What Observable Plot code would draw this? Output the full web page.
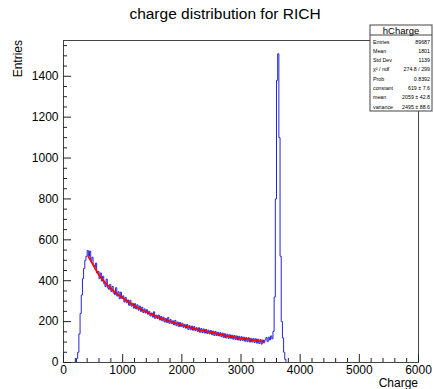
<!DOCTYPE html>
<html><head><meta charset="utf-8">
<script src="https://cdn.jsdelivr.net/npm/d3@7"></script>
<script src="https://cdn.jsdelivr.net/npm/@observablehq/plot@0.6"></script>
<style>body{margin:0;background:#fff;}</style>
</head><body><div id="chart"></div>
<script>
// ---- data ----
const binStart = 200;
const binWidth = 20;
const counts = [
  0, 20, 50, 140, 240, 330, 410, 460, 500, 520,
  548, 520, 545, 498, 515, 476, 468, 486, 438, 445,
  410, 438, 398, 422, 385, 372, 408, 365, 358, 382,
  348, 372, 340, 332, 366, 325, 346, 312, 344, 314,
  326, 296, 318, 292, 306, 280, 304, 276, 290, 266,
  288, 262, 282, 256, 276, 250, 270, 244, 262, 242,
  258, 236, 250, 228, 242, 222, 248, 216, 232, 215,
  232, 208, 226, 204, 222, 198, 215, 196, 220, 192,
  210, 190, 204, 184, 206, 180, 198, 176, 196, 176,
  192, 172, 186, 168, 186, 162, 180, 160, 178, 158,
  176, 156, 170, 152, 170, 148, 166, 146, 164, 144,
  162, 142, 158, 140, 156, 136, 154, 132, 152, 132,
  148, 130, 146, 126, 144, 122, 141, 120, 138, 118,
  136, 118, 134, 114, 132, 112, 130, 110, 128, 108,
  126, 108, 124, 104, 122, 102, 121, 100, 118, 100,
  117, 98, 116, 95, 114, 93, 112, 90, 110, 96,
  110, 122, 102, 124, 110, 130, 116, 152, 320, 800,
  1380, 1510, 1100, 520, 200, 120, 50, 15, 0, 0
];
const fitCharge = [420, 500, 600, 700, 800, 900, 1000, 1100, 1200, 1300, 1400, 1500, 1600, 1700, 1800, 1900, 2000, 2100, 2200, 2300, 2400, 2500, 2600, 2700, 2800, 2900, 3000, 3100, 3200, 3300, 3380];
const fitValue  = [518, 478, 428, 392, 362, 337, 316, 296, 278, 262, 247, 234, 222, 211, 201, 192, 183, 175, 167, 160, 153, 147, 140, 134, 128, 123, 118, 114, 109, 105, 102];

const xMajor = [0, 1000, 2000, 3000, 4000, 5000, 6000];
const xMinor = [200, 400, 600, 800, 1200, 1400, 1600, 1800, 2200, 2400, 2600, 2800, 3200, 3400, 3600, 3800, 4200, 4400, 4600, 4800, 5200, 5400, 5600, 5800];
const yMajor = [0, 200, 400, 600, 800, 1000, 1200, 1400];
const yMinor = [50, 100, 150, 250, 300, 350, 450, 500, 550, 650, 700, 750, 850, 900, 950, 1050, 1100, 1150, 1250, 1300, 1350, 1450, 1500, 1550];
const xDomain = [0, 6000];
const yDomain = [0, 1575];

const title = "charge distribution for RICH";
const xLabel = "Charge";
const yLabel = "Entries";
const statsName = "hCharge";
const statLabels = ["Entries", "Mean", "Std Dev", "χ² / ndf", "Prob", "constant", "mean", "variance"];
const statValues = ["89687", "1801", "1139", "274.8 / 299", "0.8392", "619 ± 7.6", "2059 ± 42.8", "2495 ± 88.6"];

// ---- tables ----
const hist = counts.map((c, i) => ({x: binStart + i * binWidth, y: c}));
hist.push({x: binStart + counts.length * binWidth, y: counts[counts.length - 1]});
const fit = fitCharge.map((c, i) => ({x: c, y: fitValue[i]}));

const W = 434, H = 389;
const font = "Liberation Sans, Arial, Helvetica, sans-serif";
const plain = d => String(d);

const plot = Plot.plot({
  width: W, height: H,
  marginLeft: 63, marginRight: 16, marginTop: 40, marginBottom: 27,
  style: {fontFamily: font, fontSize: "12px", color: "#000", background: "#fff"},
  x: {domain: xDomain, label: null},
  y: {domain: yDomain, label: null},
  marks: [
    Plot.line(hist, {x: "x", y: "y", curve: "step-after", stroke: "#2424d8", strokeWidth: 1}),
    Plot.line(fit, {x: "x", y: "y", curve: "natural", stroke: "#ff0000", strokeWidth: 1.8}),
    Plot.frame({stroke: "#444", strokeWidth: 1}),
    Plot.axisX({ticks: xMajor, tickSize: -8, tickPadding: 11, tickFormat: plain, label: null, fontSize: 12, stroke: "#222"}),
    Plot.axisX({ticks: xMinor, tickSize: -4, tickFormat: () => "", label: null, stroke: "#222"}),
    Plot.axisY({ticks: yMajor, tickSize: -8, tickPadding: 13, tickFormat: plain, label: null, fontSize: 12, stroke: "#222"}),
    Plot.axisY({ticks: yMinor, tickSize: -4, tickFormat: () => "", label: null, stroke: "#222"})
  ]
});
document.getElementById("chart").appendChild(plot);

// ---- annotations: title, axis titles, stats box ----
const svg = d3.select(plot);
svg.append("text").attr("x", 225).attr("y", 19).attr("text-anchor", "middle")
  .style("font-size", "15.5px").style("font-family", font).attr("fill", "#000").text(title);
svg.append("text").attr("transform", "translate(22,40) rotate(-90)").attr("text-anchor", "end")
  .style("font-size", "12px").style("font-family", font).attr("fill", "#000").text(yLabel);
svg.append("text").attr("x", 418).attr("y", 387).attr("text-anchor", "end")
  .style("font-size", "12px").style("font-family", font).attr("fill", "#000").text(xLabel);

const bx = 370, by = 25, bw = 62, bh = 86;
const g = svg.append("g");
g.append("rect").attr("x", bx).attr("y", by).attr("width", bw).attr("height", bh)
  .attr("fill", "#fff").attr("stroke", "#444").attr("stroke-width", 1);
g.append("line").attr("x1", bx).attr("x2", bx + bw).attr("y1", 35).attr("y2", 35).attr("stroke", "#444");
g.append("text").attr("x", bx + bw / 2).attr("y", 33.5).attr("text-anchor", "middle")
  .style("font-size", "9.5px").style("font-family", font).text(statsName);
statLabels.forEach((lab, i) => {
  const yy = 43.5 + i * 9.3;
  g.append("text").attr("x", bx + 3).attr("y", yy).attr("text-anchor", "start")
    .style("font-size", "5.3px").style("font-family", font).text(lab);
  g.append("text").attr("x", bx + bw - 2).attr("y", yy).attr("text-anchor", "end")
    .style("font-size", "5.3px").style("font-family", font).text(statValues[i]);
});
</script>
</body></html>
